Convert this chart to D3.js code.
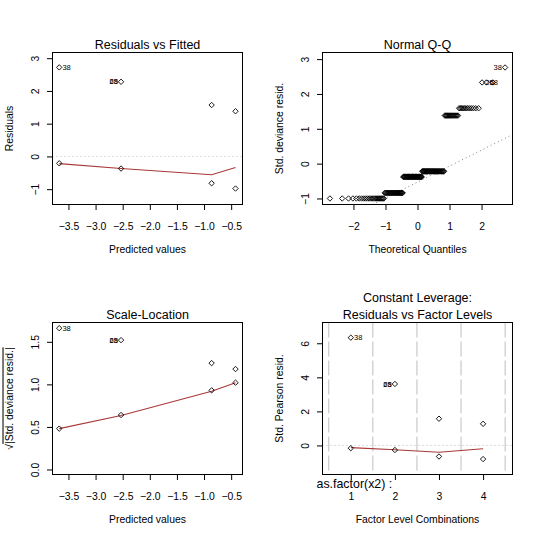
<!DOCTYPE html>
<html>
<head>
<meta charset="utf-8">
<script src="https://cdn.jsdelivr.net/npm/d3@7"></script>
<style>
body { margin: 0; background: #fff; }
svg text { font-family: "Liberation Sans", Arial, sans-serif; fill: #000; }
</style>
</head>
<body>
<div id="chart"></div>
<script>
// values (4 factor levels, 40 obs each)
var levels = [1, 2, 3, 4];
var predicted = [-3.67, -2.53, -0.86, -0.42];

// Residuals vs Fitted (deviance residuals), y = 1 and y = 0
var residOne = [2.72, 2.28, 1.57, 1.38];
var residZero = [-0.21, -0.37, -0.82, -0.98];
var smoothResid = [-0.22, -0.37, -0.56, -0.34];

// Normal Q-Q (std. deviance residuals) and how many obs share each value
var stdDevOne = [2.76, 2.33, 1.59, 1.38];
var stdDevZero = [-0.22, -0.38, -0.84, -1.00];
var countOne = [1, 3, 12, 16];
var countZero = [39, 37, 28, 24];
var qqLabels = ["38", "68", "25"];
var qqLabelRank = [160, 158, 157];

// Scale-Location
var sqrtOne = [1.66, 1.52, 1.25, 1.18];
var sqrtZero = [0.48, 0.64, 0.93, 1.02];
var smoothSqrt = [0.48, 0.635, 0.92, 1.02];

// Residuals vs Factor Levels (std. Pearson residuals)
var pearsonOne = [6.33, 3.61, 1.57, 1.27];
var pearsonZero = [-0.16, -0.27, -0.65, -0.80];
var smoothPearson = [-0.13, -0.25, -0.40, -0.19];
var levelBreaks = [0.5, 1.5, 2.5, 3.5, 4.5];

// tick values
var fittedTicks = [-3.5, -3.0, -2.5, -2.0, -1.5, -1.0, -0.5];
var residTicks = [-1, 0, 1, 2, 3];
var qqXTicks = [-2, -1, 0, 1, 2];
var qqYTicks = [-1, 0, 1, 2, 3];
var sqrtTicks = [0, 0.5, 1.0, 1.5];
var pearsonTicks = [0, 2, 4, 6];

var svgWidth = 540, svgHeight = 540;
var axisFont = 10.4, titleFont = 12.5, idFont = 7.5;
var redLine = "#a83838";

var svg = d3.select("#chart")
            .append("svg")
            .attr("width", svgWidth)
            .attr("height", svgHeight);

svg.append("rect").attr("width", svgWidth).attr("height", svgHeight).attr("fill", "#fff");

var clipCount = 0;

// one plotting region with its own scales
function makePanel(box, xDomain, yDomain) {
    var g = svg.append("g");
    var x = d3.scaleLinear().domain(xDomain).range([box.left, box.right]);
    var y = d3.scaleLinear().domain(yDomain).range([box.bottom, box.top]);
    var id = "clip" + (clipCount++);
    svg.append("clipPath").attr("id", id)
        .append("rect")
        .attr("x", box.left).attr("y", box.top)
        .attr("width", box.right - box.left).attr("height", box.bottom - box.top);
    var inner = g.append("g").attr("clip-path", `url(#${id})`);
    return {g: g, inner: inner, x: x, y: y, box: box};
}

// R style axes: outward ticks, y labels parallel to the axis
function drawAxes(p, xTicks, xFmt, yTicks, yFmt) {
    var xAxis = d3.axisBottom(p.x).tickValues(xTicks).tickFormat(xFmt).tickSize(5.5).tickSizeOuter(0);
    var gx = p.g.append("g")
        .attr("transform", `translate(0, ${p.box.bottom})`)
        .call(xAxis);
    gx.select(".domain").remove();
    gx.attr("font-size", axisFont).attr("font-family", null);
    gx.selectAll("text").attr("y", 25).attr("dy", 0);

    var yAxis = d3.axisLeft(p.y).tickValues(yTicks).tickFormat(yFmt).tickSize(5.5).tickSizeOuter(0);
    var gy = p.g.append("g")
        .attr("transform", `translate(${p.box.left}, 0)`)
        .call(yAxis);
    gy.select(".domain").remove();
    gy.attr("font-size", axisFont).attr("font-family", null);
    gy.selectAll("text")
        .attr("x", 0).attr("dy", 0)
        .attr("text-anchor", "middle")
        .attr("transform", "translate(-13.5, 0) rotate(-90)");

    // frame
    p.g.append("rect")
        .attr("x", p.box.left).attr("y", p.box.top)
        .attr("width", p.box.right - p.box.left)
        .attr("height", p.box.bottom - p.box.top)
        .attr("fill", "none").attr("stroke", "#000").attr("stroke-width", 1);
}

function labels(p, title, xTitle, yTitle) {
    var cx = (p.box.left + p.box.right) / 2;
    var cy = (p.box.top + p.box.bottom) / 2;
    var t = p.g.append("text")
        .attr("x", cx).attr("y", p.box.top - 4)
        .attr("text-anchor", "middle")
        .attr("font-size", titleFont);
    if (Array.isArray(title)) {
        t.attr("y", p.box.top - 4 - 16.7).text(title[0]);
        p.g.append("text")
            .attr("x", cx).attr("y", p.box.top - 4)
            .attr("text-anchor", "middle")
            .attr("font-size", titleFont)
            .text(title[1]);
    } else {
        t.text(title);
    }
    p.g.append("text")
        .attr("x", cx).attr("y", p.box.bottom + 48.5)
        .attr("text-anchor", "middle")
        .attr("font-size", axisFont)
        .text(xTitle);
    var yt = p.g.append("text")
        .attr("transform", `translate(${p.box.left - 40}, ${cy}) rotate(-90)`)
        .attr("text-anchor", "middle")
        .attr("font-size", axisFont);
    if (Array.isArray(yTitle)) {
        yt.append("tspan").text(yTitle[0]);
        yt.append("tspan").attr("text-decoration", "overline").text(yTitle[1]);
    } else {
        yt.text(yTitle);
    }
}

// open diamonds as the small circles come out on this device
function diamond(cx, cy) {
    var r = 2.7;
    return `M${cx},${cy - r}L${cx + r},${cy}L${cx},${cy + r}L${cx - r},${cy}Z`;
}

function drawPoints(p, xs, ys) {
    p.g.selectAll(null)
        .data(xs.map((d, i) => [d, ys[i]]))
        .enter()
        .append("path")
        .attr("d", d => diamond(p.x(d[0]), p.y(d[1])))
        .attr("fill", "none")
        .attr("stroke", "#000")
        .attr("stroke-width", 0.9);
}

function drawSmooth(p, xs, ys) {
    var line = d3.line().x(d => p.x(d[0])).y(d => p.y(d[1]));
    p.inner.append("path")
        .attr("d", line(xs.map((d, i) => [d, ys[i]])))
        .attr("fill", "none")
        .attr("stroke", redLine)
        .attr("stroke-width", 1.1);
}

function hline(p, v, color) {
    p.inner.append("line")
        .attr("x1", p.box.left).attr("x2", p.box.right)
        .attr("y1", p.y(v)).attr("y2", p.y(v))
        .attr("stroke", color).attr("stroke-dasharray", "1,3");
}

// side: "right" or "left" of the point
function idLabel(p, xv, yv, txt, side) {
    p.g.append("text")
        .attr("x", p.x(xv) + (side === "right" ? 3.2 : -3.2))
        .attr("y", p.y(yv) + 2.6)
        .attr("text-anchor", side === "right" ? "start" : "end")
        .attr("font-size", idFont)
        .text(txt);
}

var fmt1 = d3.format(".1f");
var fmtInt = d3.format("d");

// ---------- Residuals vs Fitted ----------
var p1 = makePanel({left: 52.5, right: 242.5, top: 52.5, bottom: 204.5}, [-3.794, -0.291], [-1.468, 3.174]);
hline(p1, 0, "#bebebe");
drawSmooth(p1, predicted, smoothResid);
drawPoints(p1, predicted, residOne);
drawPoints(p1, predicted, residZero);
drawAxes(p1, fittedTicks, fmt1, residTicks, fmtInt);
labels(p1, "Residuals vs Fitted", "Predicted values", "Residuals");
idLabel(p1, predicted[0], residOne[0], "38", "right");
idLabel(p1, predicted[1], residOne[1], "68", "left");
idLabel(p1, predicted[1], residOne[1], "25", "left");

// ---------- Normal Q-Q ----------
// inverse normal cdf (Acklam) for the theoretical quantiles
function qnorm(p) {
    var a = [-3.969683028665376e+01, 2.209460984245205e+02, -2.759285104469687e+02, 1.383577518672690e+02, -3.066479806614716e+01, 2.506628277459239e+00];
    var b = [-5.447609879822406e+01, 1.615858368580409e+02, -1.556989798598866e+02, 6.680131188771972e+01, -1.328068155288572e+01];
    var c = [-7.784894002430293e-03, -3.223964580411365e-01, -2.400758277161838e+00, -2.549732539343734e+00, 4.374664141464968e+00, 2.938163982698783e+00];
    var d = [7.784695709041462e-03, 3.224671290700398e-01, 2.445134137142996e+00, 3.754408661907416e+00];
    var pl = 0.02425, q, r;
    if (p < pl) {
        q = Math.sqrt(-2 * Math.log(p));
        return (((((c[0]*q+c[1])*q+c[2])*q+c[3])*q+c[4])*q+c[5]) / ((((d[0]*q+d[1])*q+d[2])*q+d[3])*q+1);
    }
    if (p > 1 - pl) {
        q = Math.sqrt(-2 * Math.log(1 - p));
        return -(((((c[0]*q+c[1])*q+c[2])*q+c[3])*q+c[4])*q+c[5]) / ((((d[0]*q+d[1])*q+d[2])*q+d[3])*q+1);
    }
    q = p - 0.5; r = q * q;
    return (((((a[0]*r+a[1])*r+a[2])*r+a[3])*r+a[4])*r+a[5])*q / (((((b[0]*r+b[1])*r+b[2])*r+b[3])*r+b[4])*r+1);
}

var sample = [];
levels.forEach(function(lv, i) {
    d3.range(countOne[i]).forEach(() => sample.push(stdDevOne[i]));
    d3.range(countZero[i]).forEach(() => sample.push(stdDevZero[i]));
});
sample.sort(d3.ascending);
var nObs = sample.length;
var theo = sample.map((d, i) => qnorm((i + 0.5) / nObs));

var p2 = makePanel({left: 322.5, right: 512.5, top: 52.5, bottom: 204.5}, [-2.966, 2.966], [-1.173, 3.19]);

// qqline through the quartiles
var yq1 = d3.quantile(sample, 0.25), yq3 = d3.quantile(sample, 0.75);
var xq1 = qnorm(0.25), xq3 = qnorm(0.75);
var slope = (yq3 - yq1) / (xq3 - xq1);
var icpt = yq1 - slope * xq1;
var xd = p2.x.domain();
p2.inner.append("line")
    .attr("x1", p2.x(xd[0])).attr("y1", p2.y(icpt + slope * xd[0]))
    .attr("x2", p2.x(xd[1])).attr("y2", p2.y(icpt + slope * xd[1]))
    .attr("stroke", "#7f7f7f").attr("stroke-dasharray", "1,3");

drawPoints(p2, theo, sample);
drawAxes(p2, qqXTicks, fmtInt, qqYTicks, fmtInt);
labels(p2, "Normal Q-Q", "Theoretical Quantiles", "Std. deviance resid.");
qqLabels.forEach(function(lab, i) {
    var k = qqLabelRank[i] - 1;
    idLabel(p2, theo[k], sample[k], lab, i === 0 ? "left" : "right");
});

// ---------- Scale-Location ----------
var p3 = makePanel({left: 52.5, right: 242.5, top: 322.5, bottom: 474.5}, [-3.794, -0.291], [-0.059, 1.727]);
drawSmooth(p3, predicted, smoothSqrt);
drawPoints(p3, predicted, sqrtOne);
drawPoints(p3, predicted, sqrtZero);
drawAxes(p3, fittedTicks, fmt1, sqrtTicks, fmt1);
labels(p3, "Scale-Location", "Predicted values", ["\u221A", "|Std. deviance resid.|"]);
idLabel(p3, predicted[0], sqrtOne[0], "38", "right");
idLabel(p3, predicted[1], sqrtOne[1], "68", "left");
idLabel(p3, predicted[1], sqrtOne[1], "25", "left");

// ---------- Residuals vs Factor Levels ----------
var p4 = makePanel({left: 322.5, right: 512.5, top: 322.5, bottom: 474.5}, [0.358, 4.667], [-1.706, 7.22]);
p4.inner.selectAll(null)
    .data(levelBreaks)
    .enter()
    .append("line")
    .attr("x1", d => p4.x(d)).attr("x2", d => p4.x(d))
    .attr("y1", p4.box.top).attr("y2", p4.box.bottom)
    .attr("stroke", "#bebebe").attr("stroke-dasharray", "15,4");
hline(p4, 0, "#bebebe");
drawSmooth(p4, levels, smoothPearson);
drawPoints(p4, levels, pearsonOne);
drawPoints(p4, levels, pearsonZero);
drawAxes(p4, levels, fmtInt, pearsonTicks, fmtInt);
labels(p4, ["Constant Leverage:", "Residuals vs Factor Levels"], "Factor Level Combinations", "Std. Pearson resid.");
idLabel(p4, levels[0], pearsonOne[0], "38", "right");
idLabel(p4, levels[1], pearsonOne[1], "68", "left");
idLabel(p4, levels[1], pearsonOne[1], "25", "left");
p4.g.append("text")
    .attr("x", p4.box.left - 6)
    .attr("y", p4.box.bottom + 13.5)
    .attr("font-size", 12.4)
    .text("as.factor(x2) :");
</script>
</body>
</html>
